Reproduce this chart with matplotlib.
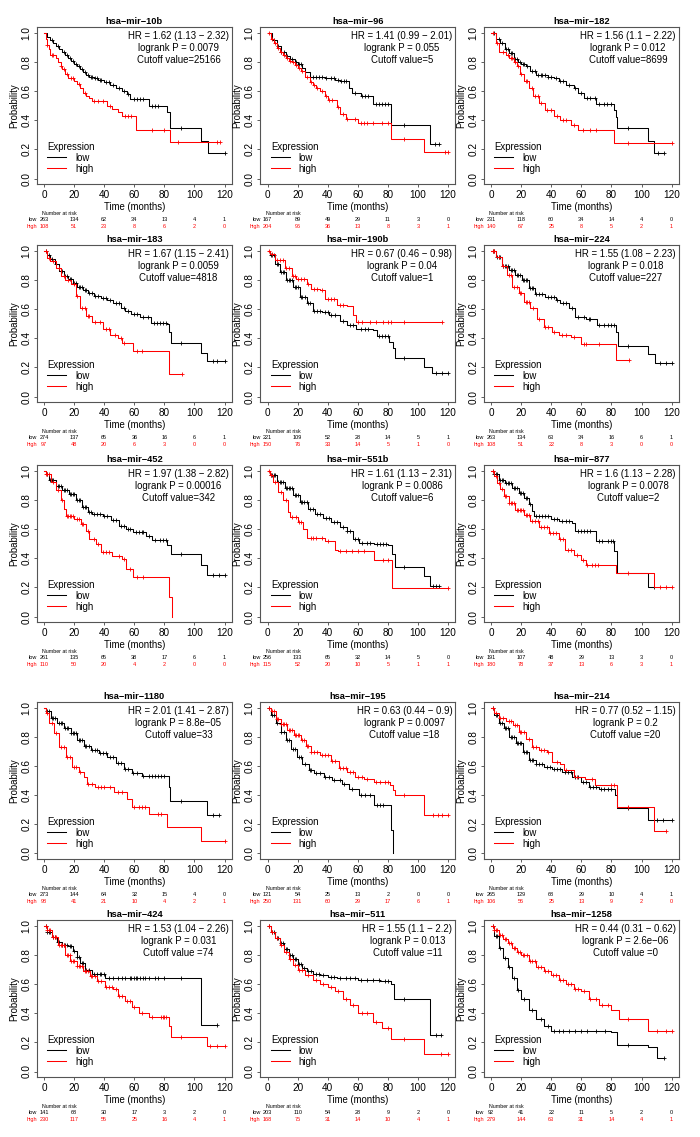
import numpy as np
import matplotlib
matplotlib.use('Agg')
import matplotlib.pyplot as plt

plt.rcParams['font.family'] = ['Liberation Sans', 'DejaVu Sans']

# time points of the "number at risk" table
risk_times = [0, 20, 40, 60, 80, 100, 120]

# ---- hsa-mir-10b
m10b_low_t = [0, 2, 4, 6, 8, 10, 12, 14, 16, 18, 20, 22, 24, 26, 28, 30, 33, 36, 40, 44, 48, 52, 55, 57, 70, 82, 84, 104, 109, 120]
m10b_low_s = [1.0, 0.97, 0.95, 0.93, 0.91, 0.89, 0.87, 0.85, 0.83, 0.81, 0.79, 0.77, 0.75, 0.73, 0.71, 0.70, 0.69, 0.68, 0.66, 0.64, 0.62, 0.60, 0.58, 0.545, 0.495, 0.455, 0.345, 0.255, 0.177, 0.177]
m10b_low_c = [5, 9, 13, 15, 17, 19, 21, 23, 25, 27, 29, 31, 32, 34, 35, 37, 38, 41, 43, 46, 50, 53, 56, 60, 62, 64, 66, 72, 74, 76, 91, 120]
m10b_high_t = [0, 1, 2, 3, 4, 8, 9, 11, 12, 14, 16, 20, 22, 24, 26, 28, 30, 32, 42, 45, 49, 52, 61, 84, 117]
m10b_high_s = [1.0, 0.96, 0.92, 0.89, 0.85, 0.83, 0.80, 0.77, 0.75, 0.72, 0.69, 0.67, 0.65, 0.62, 0.59, 0.57, 0.55, 0.53, 0.50, 0.48, 0.455, 0.43, 0.33, 0.25, 0.25]
m10b_high_c = [2, 5, 6, 11, 13, 15, 18, 19, 23, 27, 33, 36, 39, 44, 54, 56, 58, 72, 80, 89, 115, 117]
m10b_risk_low = [263, 134, 62, 34, 13, 4, 1]
m10b_risk_high = [108, 51, 23, 8, 6, 2, 0]

# ---- hsa-mir-96
m96_low_t = [0, 3, 6, 9, 12, 15, 18, 20, 23, 25, 28, 38, 45, 48, 54, 56, 62, 70, 82, 108, 114]
m96_low_s = [1.0, 0.95, 0.91, 0.87, 0.84, 0.82, 0.80, 0.79, 0.76, 0.73, 0.70, 0.69, 0.68, 0.67, 0.62, 0.59, 0.57, 0.51, 0.37, 0.24, 0.24]
m96_low_c = [4, 7, 9, 11, 13, 16, 18, 19, 21, 22, 30, 32, 34, 36, 39, 42, 44, 47, 49, 51, 52, 58, 63, 65, 67, 72, 74, 76, 78, 80, 91, 111, 114]
m96_high_t = [0, 2, 4, 6, 8, 10, 12, 14, 16, 18, 20, 22, 25, 28, 30, 32, 35, 38, 40, 46, 48, 52, 60, 82, 104, 120]
m96_high_s = [1.0, 0.96, 0.93, 0.90, 0.87, 0.85, 0.83, 0.81, 0.80, 0.78, 0.76, 0.74, 0.70, 0.66, 0.64, 0.62, 0.60, 0.57, 0.54, 0.49, 0.44, 0.41, 0.38, 0.27, 0.18, 0.18]
m96_high_c = [1, 3, 5, 7, 9, 11, 13, 15, 17, 19, 21, 23, 26, 29, 31, 33, 36, 39, 41, 43, 47, 50, 53, 58, 62, 64, 66, 70, 76, 80, 91, 118, 120]
m96_risk_low = [167, 89, 49, 29, 11, 3, 0]
m96_risk_high = [204, 96, 36, 13, 8, 3, 1]

# ---- hsa-mir-182
m182_low_t = [0, 3, 6, 9, 12, 15, 18, 20, 23, 26, 30, 38, 42, 45, 50, 55, 58, 62, 70, 82, 83, 84, 104, 108, 115]
m182_low_s = [1.0, 0.96, 0.93, 0.89, 0.86, 0.82, 0.80, 0.79, 0.77, 0.74, 0.71, 0.70, 0.69, 0.67, 0.64, 0.62, 0.59, 0.555, 0.515, 0.47, 0.42, 0.35, 0.26, 0.175, 0.175]
m182_low_c = [2, 5, 7, 10, 11, 13, 14, 16, 17, 19, 21, 22, 24, 27, 29, 31, 33, 34, 36, 38, 40, 43, 46, 48, 52, 56, 60, 64, 66, 69, 72, 75, 77, 80, 91, 111, 115]
m182_high_t = [0, 3, 5, 10, 12, 15, 17, 19, 22, 25, 28, 32, 36, 42, 46, 53, 58, 82, 120]
m182_high_s = [1.0, 0.93, 0.87, 0.85, 0.83, 0.80, 0.77, 0.72, 0.67, 0.62, 0.57, 0.52, 0.47, 0.43, 0.40, 0.37, 0.33, 0.245, 0.245]
m182_high_c = [1, 4, 8, 11, 13, 14, 16, 18, 20, 23, 24, 27, 29, 31, 33, 37, 40, 44, 48, 50, 55, 61, 66, 70, 91, 120]
m182_risk_low = [231, 118, 60, 34, 14, 4, 0]
m182_risk_high = [140, 67, 25, 8, 5, 2, 1]

# ---- hsa-mir-183
m183_low_t = [0, 2, 4, 7, 10, 13, 16, 19, 22, 26, 29, 33, 38, 42, 46, 51, 54, 57.5, 64, 71, 82, 83, 84.5, 104, 108, 120]
m183_low_s = [1.0, 0.97, 0.945, 0.91, 0.86, 0.83, 0.805, 0.78, 0.75, 0.73, 0.71, 0.69, 0.68, 0.665, 0.64, 0.61, 0.59, 0.565, 0.545, 0.505, 0.50, 0.44, 0.37, 0.30, 0.245, 0.245]
m183_low_c = [1, 3, 5, 8, 11, 12, 14, 15, 17, 18, 20, 21, 23, 24, 25, 27, 28, 30, 32, 34, 36, 39, 41, 44, 48, 50, 53, 56, 60, 62, 66, 69, 73, 75, 77, 79, 81, 91, 112, 115, 120]
m183_high_t = [0, 2, 4, 8, 11, 14, 18, 21, 24, 28, 32, 39, 44, 49, 52, 59, 83, 91.5]
m183_high_s = [1.0, 0.95, 0.93, 0.885, 0.83, 0.80, 0.77, 0.69, 0.61, 0.55, 0.51, 0.465, 0.425, 0.40, 0.37, 0.31, 0.155, 0.155]
m183_high_c = [1, 3, 6, 10, 13, 16, 20, 22, 25, 27, 29, 30, 34, 37, 41, 43, 47, 51, 53, 62, 65, 91.5]
m183_risk_low = [274, 137, 65, 36, 16, 6, 1]
m183_risk_high = [97, 48, 20, 6, 3, 0, 0]

# ---- hsa-mir-190b
m190b_low_t = [0, 1.5, 5, 8, 12.5, 17, 21.5, 26, 30, 36, 41, 48, 52.5, 59, 70, 72.5, 81, 83.5, 84.6, 104, 109, 120]
m190b_low_s = [1.0, 0.97, 0.91, 0.855, 0.80, 0.75, 0.685, 0.64, 0.59, 0.58, 0.557, 0.518, 0.49, 0.466, 0.454, 0.413, 0.374, 0.33, 0.266, 0.206, 0.16, 0.16]
m190b_low_c = [2, 3, 4, 6, 7, 9, 10, 11, 13, 14, 15, 16, 18, 19, 20, 22, 23, 25, 27, 28, 31, 33, 35, 38, 40, 42, 45, 50, 55, 57, 62, 65, 67, 74, 76, 78, 80, 91, 112, 116, 120]
m190b_high_t = [0, 1.5, 5, 11.5, 16, 19, 26, 29, 35, 38, 46, 52.5, 57, 59, 116]
m190b_high_s = [1.0, 0.98, 0.935, 0.88, 0.83, 0.805, 0.775, 0.74, 0.73, 0.67, 0.626, 0.62, 0.557, 0.515, 0.515]
m190b_high_c = [1, 3, 6, 8, 10, 12, 14, 17, 18, 20, 22, 24, 27, 31, 33, 36, 40, 42, 44, 48, 50, 60, 63, 68, 72, 77, 80, 82, 91, 116]
m190b_risk_low = [221, 109, 52, 28, 14, 5, 1]
m190b_risk_high = [150, 76, 33, 14, 5, 1, 0]

# ---- hsa-mir-224
m224_low_t = [0, 3, 7, 12, 16, 20.5, 25, 29.5, 36, 43, 46, 52, 56, 63, 70.6, 83, 84.5, 104, 109, 120]
m224_low_s = [1.0, 0.96, 0.90, 0.87, 0.835, 0.80, 0.747, 0.703, 0.685, 0.66, 0.64, 0.605, 0.547, 0.53, 0.49, 0.444, 0.345, 0.29, 0.228, 0.228]
m224_low_c = [1, 2, 4, 5, 6, 8, 9, 10, 11, 13, 14, 15, 17, 18, 19, 21, 22, 23, 24, 26, 27, 28, 30, 32, 34, 38, 40, 42, 44, 48, 50, 54, 58, 62, 65, 66, 72, 75, 78, 80, 82, 91, 112, 116, 120]
m224_high_t = [0, 3, 7, 10.7, 14, 18.4, 21.8, 26, 30.7, 35, 40.7, 45, 53, 60, 83, 91.5]
m224_high_s = [1.0, 0.96, 0.90, 0.835, 0.755, 0.71, 0.65, 0.605, 0.535, 0.478, 0.444, 0.42, 0.41, 0.363, 0.25, 0.25]
m224_high_c = [1, 2, 5, 8, 12, 13, 15, 17, 19, 20, 23, 24, 25, 28, 32, 36, 38, 42, 47, 50, 55, 62, 63, 72, 91.5]
m224_risk_low = [263, 134, 63, 34, 16, 6, 1]
m224_risk_high = [108, 51, 22, 8, 3, 0, 0]

# ---- hsa-mir-452
m452_low_t = [0, 1, 3.3, 7.8, 12, 16.7, 21, 25.5, 29, 32, 39, 44.4, 50, 54.4, 59, 68, 72, 82, 84.4, 104, 108.5, 120]
m452_low_s = [1.0, 0.98, 0.936, 0.90, 0.87, 0.845, 0.80, 0.75, 0.717, 0.706, 0.694, 0.66, 0.62, 0.60, 0.58, 0.556, 0.527, 0.49, 0.43, 0.356, 0.287, 0.287]
m452_low_c = [2, 4, 5, 6, 9, 10, 11, 13, 14, 15, 17, 18, 19, 20, 22, 23, 24, 26, 27, 28, 30, 31, 33, 35, 37, 40, 42, 46, 48, 51, 53, 56, 57, 61, 63, 65, 66, 70, 74, 77, 79, 81, 91, 112, 116, 120]
m452_high_t = [0, 1, 4.4, 7.8, 11, 13.3, 14.4, 20, 24.4, 28, 30, 34.4, 37.8, 45.5, 52, 54.4, 59, 83, 85]
m452_high_s = [1.0, 0.98, 0.924, 0.867, 0.80, 0.74, 0.694, 0.67, 0.637, 0.59, 0.533, 0.50, 0.44, 0.418, 0.395, 0.326, 0.27, 0.135, 0.0]
m452_high_c = [1, 2, 3, 6, 9, 12, 15, 16, 17, 18, 19, 22, 23, 25, 26, 29, 33, 36, 39, 41, 43, 50, 53, 57, 62, 66]
m452_risk_low = [261, 135, 65, 38, 17, 6, 1]
m452_risk_high = [110, 50, 20, 4, 2, 0, 0]

# ---- hsa-mir-551b
m551b_low_t = [0, 1.5, 6, 11.5, 17, 21.5, 27, 31.4, 37, 42.5, 48, 52.5, 57, 61, 71, 80, 82.4, 84.6, 104, 108, 114]
m551b_low_s = [1.0, 0.97, 0.926, 0.88, 0.834, 0.788, 0.742, 0.707, 0.677, 0.65, 0.615, 0.585, 0.535, 0.507, 0.50, 0.488, 0.43, 0.343, 0.276, 0.207, 0.207]
m551b_low_c = [2, 3, 4, 5, 7, 8, 9, 10, 12, 13, 14, 15, 16, 18, 19, 20, 22, 23, 24, 26, 28, 30, 33, 35, 39, 41, 44, 46, 50, 53, 55, 58, 60, 63, 66, 68, 73, 75, 77, 79, 91, 110, 112, 114]
m551b_high_t = [0, 1.5, 3.8, 7, 10.4, 13.7, 14.8, 20.4, 23.7, 26, 38, 45, 47, 71, 83, 120]
m551b_high_s = [1.0, 0.97, 0.926, 0.857, 0.80, 0.72, 0.684, 0.65, 0.604, 0.54, 0.518, 0.46, 0.45, 0.39, 0.195, 0.195]
m551b_high_c = [1, 2, 5, 9, 12, 16, 19, 21, 22, 29, 30, 32, 36, 40, 48, 52, 56, 60, 64, 77, 80, 120]
m551b_risk_low = [256, 133, 65, 32, 14, 5, 0]
m551b_risk_high = [115, 52, 20, 10, 5, 1, 1]

# ---- hsa-mir-877
m877_low_t = [0, 1.8, 5, 9.5, 14, 18.4, 22, 25, 27.3, 28.4, 40, 45, 54, 56, 70, 82, 84, 104, 108]
m877_low_s = [1.0, 0.977, 0.94, 0.92, 0.885, 0.85, 0.816, 0.77, 0.724, 0.694, 0.671, 0.655, 0.644, 0.586, 0.517, 0.448, 0.30, 0.20, 0.20]
m877_low_c = [1, 2, 3, 4, 6, 7, 8, 10, 11, 12, 13, 15, 16, 17, 19, 20, 21, 23, 24, 26, 30, 32, 34, 36, 38, 42, 44, 47, 50, 52, 58, 60, 62, 64, 66, 72, 74, 78, 80, 81, 108]
m877_high_t = [0, 1.8, 4, 6, 8.4, 11.8, 16, 22, 26, 32, 38.4, 45, 49.5, 55, 59.5, 63, 83, 108, 120]
m877_high_s = [1.0, 0.965, 0.92, 0.874, 0.83, 0.78, 0.735, 0.70, 0.655, 0.616, 0.575, 0.53, 0.46, 0.425, 0.39, 0.356, 0.30, 0.20, 0.20]
m877_high_c = [1, 3, 5, 7, 9, 10, 12, 13, 14, 15, 17, 18, 19, 20, 21, 23, 24, 25, 27, 29, 31, 33, 35, 37, 39, 41, 43, 46, 48, 51, 53, 57, 61, 64, 67, 69, 71, 91, 112, 116, 120]
m877_risk_low = [191, 107, 48, 29, 13, 3, 0]
m877_risk_high = [180, 78, 37, 13, 6, 3, 1]

# ---- hsa-mir-1180
m1180_low_t = [0, 1.1, 4.4, 8.9, 13.3, 17.7, 22, 26.6, 31, 36.5, 42, 47.6, 53, 58.7, 65, 83, 84, 108, 116]
m1180_low_s = [1.0, 0.977, 0.93, 0.896, 0.86, 0.827, 0.78, 0.74, 0.71, 0.69, 0.66, 0.62, 0.584, 0.55, 0.53, 0.457, 0.358, 0.268, 0.268]
m1180_low_c = [2, 3, 5, 6, 7, 10, 11, 12, 14, 15, 16, 18, 19, 20, 21, 23, 24, 25, 27, 28, 30, 32, 34, 35, 37, 39, 41, 44, 46, 49, 51, 54, 56, 59, 62, 66, 70, 72, 74, 76, 78, 80, 91, 112, 116]
m1180_high_t = [0, 1.1, 3.3, 6.6, 10, 14.4, 18.8, 23, 26.6, 28.8, 34, 46.5, 55, 58.7, 70, 82, 104, 120]
m1180_high_s = [1.0, 0.965, 0.896, 0.827, 0.735, 0.66, 0.596, 0.56, 0.526, 0.48, 0.457, 0.42, 0.376, 0.323, 0.272, 0.18, 0.088, 0.088]
m1180_high_c = [2, 5, 8, 11, 13, 15, 17, 20, 21, 24, 29, 32, 36, 38, 40, 44, 49, 52, 60, 63, 65, 67, 76, 78, 120]
m1180_risk_low = [273, 144, 64, 32, 15, 4, 0]
m1180_risk_high = [98, 41, 21, 10, 4, 2, 1]

# ---- hsa-mir-195
m195_low_t = [0, 2.2, 5.5, 8.8, 12, 15.4, 19.8, 23, 27.5, 31, 37.4, 43, 49.6, 54, 60.6, 71, 82, 83.7]
m195_low_s = [1.0, 0.954, 0.896, 0.838, 0.78, 0.72, 0.66, 0.614, 0.573, 0.554, 0.527, 0.503, 0.476, 0.44, 0.40, 0.33, 0.162, 0.0]
m195_low_c = [1, 3, 4, 6, 9, 11, 13, 14, 17, 18, 21, 22, 25, 28, 29, 32, 35, 38, 41, 44, 48, 51, 56, 62, 65, 68, 73, 75, 77]
m195_high_t = [0, 2.2, 5.5, 8.8, 13, 17.6, 22, 25.3, 28.6, 35, 42, 47.4, 53, 58.4, 64, 70.5, 81.5, 83.3, 84.8, 104, 120]
m195_high_s = [1.0, 0.977, 0.924, 0.89, 0.85, 0.815, 0.78, 0.74, 0.70, 0.677, 0.637, 0.59, 0.56, 0.527, 0.51, 0.49, 0.47, 0.434, 0.40, 0.266, 0.266]
m195_high_c = [1, 3, 4, 6, 7, 9, 10, 11, 12, 14, 15, 16, 18, 19, 20, 21, 23, 24, 26, 27, 29, 31, 33, 36, 38, 40, 43, 45, 48, 50, 52, 55, 57, 60, 63, 66, 72, 75, 78, 80, 91, 110, 113, 116, 120]
m195_risk_low = [121, 54, 25, 13, 2, 0, 0]
m195_risk_high = [250, 131, 60, 29, 17, 6, 1]

# ---- hsa-mir-214
m214_low_t = [0, 2.2, 5.5, 8.8, 12, 16.5, 21, 25.3, 29.7, 35, 40.5, 47.4, 54, 59.5, 65, 71.6, 80.4, 82.6, 83.7, 104, 120]
m214_low_s = [1.0, 0.954, 0.896, 0.86, 0.80, 0.757, 0.70, 0.64, 0.614, 0.596, 0.578, 0.56, 0.527, 0.49, 0.46, 0.446, 0.44, 0.40, 0.312, 0.23, 0.23]
m214_low_c = [1, 3, 4, 6, 7, 9, 10, 11, 13, 14, 15, 17, 18, 19, 20, 22, 23, 24, 26, 27, 28, 30, 32, 34, 37, 39, 42, 44, 46, 49, 51, 53, 56, 58, 61, 63, 66, 68, 70, 73, 75, 78, 80, 91, 110, 114, 120]
m214_high_t = [0, 2.2, 5.5, 10, 14.3, 18.7, 23, 27.5, 32, 37.4, 40.7, 46, 48.5, 55, 62.6, 69.3, 83.7, 108, 116]
m214_high_s = [1.0, 0.965, 0.93, 0.908, 0.885, 0.838, 0.79, 0.735, 0.71, 0.70, 0.63, 0.612, 0.573, 0.527, 0.51, 0.47, 0.32, 0.157, 0.157]
m214_high_c = [1, 3, 6, 8, 12, 13, 16, 17, 19, 20, 22, 25, 28, 30, 33, 35, 38, 44, 50, 57, 67, 80, 82, 91, 116]
m214_risk_low = [265, 129, 68, 29, 10, 4, 1]
m214_risk_high = [106, 56, 25, 13, 9, 2, 0]

# ---- hsa-mir-424
m424_low_t = [0, 1.8, 5, 8.4, 11.8, 16, 19.6, 21.8, 24, 27.3, 32, 40.7, 104, 115]
m424_low_s = [1.0, 0.96, 0.927, 0.893, 0.87, 0.86, 0.825, 0.79, 0.745, 0.70, 0.673, 0.643, 0.32, 0.32]
m424_low_c = [1, 2, 3, 4, 6, 7, 9, 10, 12, 13, 14, 15, 17, 18, 20, 22, 23, 25, 26, 28, 30, 33, 35, 37, 38, 40, 43, 46, 49, 52, 54, 57, 58, 60, 61, 62, 64, 66, 67, 70, 74, 76, 80, 91, 115]
m424_high_t = [0, 1.8, 5, 9.5, 14, 17.3, 21.8, 26.2, 30.7, 35, 40.7, 46, 49.5, 54, 58.4, 63, 69.5, 83, 84.5, 108, 120]
m424_high_s = [1.0, 0.97, 0.927, 0.87, 0.80, 0.757, 0.723, 0.69, 0.655, 0.62, 0.58, 0.564, 0.518, 0.484, 0.44, 0.405, 0.377, 0.314, 0.234, 0.177, 0.177]
m424_high_c = [1, 2, 3, 4, 6, 7, 8, 10, 11, 12, 13, 15, 16, 17, 18, 19, 20, 22, 23, 24, 25, 27, 28, 29, 31, 32, 34, 36, 38, 41, 43, 45, 48, 50, 52, 55, 57, 60, 65, 72, 78, 79, 80, 81, 91, 110, 115, 120]
m424_risk_low = [141, 68, 30, 17, 3, 2, 0]
m424_risk_high = [230, 117, 55, 25, 16, 4, 1]

# ---- hsa-mir-511
m511_low_t = [0, 2, 5, 8, 11, 14, 17, 20, 23, 26, 30, 35, 40, 46, 60, 75, 82, 84, 104, 108, 115]
m511_low_s = [1.0, 0.96, 0.92, 0.88, 0.84, 0.80, 0.77, 0.74, 0.71, 0.69, 0.67, 0.66, 0.65, 0.64, 0.63, 0.62, 0.60, 0.50, 0.50, 0.25, 0.25]
m511_low_c = [1, 3, 4, 6, 7, 9, 10, 12, 13, 15, 16, 18, 19, 21, 22, 24, 27, 29, 32, 34, 37, 42, 44, 48, 52, 55, 58, 62, 66, 70, 74, 78, 80, 91, 112, 115]
m511_high_t = [0, 2, 5, 8, 11, 14, 17, 20, 25, 30, 35, 40, 45, 50, 55, 60, 70, 76, 82, 104, 120]
m511_high_s = [1.0, 0.96, 0.92, 0.87, 0.82, 0.77, 0.73, 0.70, 0.66, 0.63, 0.60, 0.58, 0.55, 0.50, 0.46, 0.40, 0.34, 0.30, 0.22, 0.12, 0.12]
m511_high_c = [1, 3, 6, 9, 12, 15, 18, 21, 23, 27, 32, 37, 42, 47, 52, 57, 63, 66, 72, 80, 91, 115, 120]
m511_risk_low = [203, 110, 54, 28, 9, 2, 0]
m511_risk_high = [168, 75, 31, 14, 10, 4, 1]

# ---- hsa-mir-1258
m1258_low_t = [0, 2, 5, 8, 11, 14, 17, 20, 25, 30, 35, 40, 80, 84, 104, 110, 115]
m1258_low_s = [1.0, 0.93, 0.85, 0.78, 0.72, 0.64, 0.56, 0.50, 0.42, 0.36, 0.31, 0.28, 0.27, 0.18, 0.17, 0.09, 0.09]
m1258_low_c = [1, 3, 4, 6, 9, 12, 15, 18, 22, 27, 33, 38, 42, 45, 48, 52, 56, 60, 64, 70, 76, 91, 115]
m1258_high_t = [0, 2, 5, 8, 11, 14, 17, 20, 25, 30, 35, 40, 45, 50, 55, 60, 65, 72, 80, 85, 104, 120]
m1258_high_s = [1.0, 0.97, 0.94, 0.91, 0.88, 0.85, 0.82, 0.80, 0.76, 0.72, 0.69, 0.66, 0.63, 0.60, 0.57, 0.55, 0.50, 0.46, 0.42, 0.36, 0.28, 0.28]
m1258_high_c = [1, 2, 3, 4, 6, 7, 9, 10, 12, 13, 15, 16, 18, 19, 21, 22, 24, 26, 27, 29, 31, 33, 36, 38, 41, 43, 46, 48, 51, 53, 56, 58, 62, 66, 70, 74, 78, 91, 110, 116, 120]
m1258_risk_low = [92, 41, 22, 11, 5, 2, 0]
m1258_risk_high = [279, 144, 63, 31, 14, 4, 1]

names = ['hsa−mir−10b', 'hsa−mir−96', 'hsa−mir−182',
         'hsa−mir−183', 'hsa−mir−190b', 'hsa−mir−224',
         'hsa−mir−452', 'hsa−mir−551b', 'hsa−mir−877',
         'hsa−mir−1180', 'hsa−mir−195', 'hsa−mir−214',
         'hsa−mir−424', 'hsa−mir−511', 'hsa−mir−1258']
hr_labels = ['1.62 (1.13 − 2.32)', '1.41 (0.99 − 2.01)', '1.56 (1.1 − 2.22)',
             '1.67 (1.15 − 2.41)', '0.67 (0.46 − 0.98)', '1.55 (1.08 − 2.23)',
             '1.97 (1.38 − 2.82)', '1.61 (1.13 − 2.31)', '1.6 (1.13 − 2.28)',
             '2.01 (1.41 − 2.87)', '0.63 (0.44 − 0.9)', '0.77 (0.52 − 1.15)',
             '1.53 (1.04 − 2.26)', '1.55 (1.1 − 2.2)', '0.44 (0.31 − 0.62)']
p_labels = ['0.0079', '0.055', '0.012', '0.0059', '0.04', '0.018',
            '0.00016', '0.0086', '0.0078', '8.8e−05', '0.0097', '0.2',
            '0.031', '0.013', '2.6e−06']
cutoff_labels = ['Cutoff value=25166', 'Cutoff value=5', 'Cutoff value=8699',
                 'Cutoff value=4818', 'Cutoff value=1', 'Cutoff value=227',
                 'Cutoff value=342', 'Cutoff value=6', 'Cutoff value=2',
                 'Cutoff value=33', 'Cutoff value =18', 'Cutoff value =20',
                 'Cutoff value =74', 'Cutoff value =11', 'Cutoff value =0']

curves = [
    (m10b_low_t, m10b_low_s, m10b_low_c, m10b_high_t, m10b_high_s, m10b_high_c, m10b_risk_low, m10b_risk_high),
    (m96_low_t, m96_low_s, m96_low_c, m96_high_t, m96_high_s, m96_high_c, m96_risk_low, m96_risk_high),
    (m182_low_t, m182_low_s, m182_low_c, m182_high_t, m182_high_s, m182_high_c, m182_risk_low, m182_risk_high),
    (m183_low_t, m183_low_s, m183_low_c, m183_high_t, m183_high_s, m183_high_c, m183_risk_low, m183_risk_high),
    (m190b_low_t, m190b_low_s, m190b_low_c, m190b_high_t, m190b_high_s, m190b_high_c, m190b_risk_low, m190b_risk_high),
    (m224_low_t, m224_low_s, m224_low_c, m224_high_t, m224_high_s, m224_high_c, m224_risk_low, m224_risk_high),
    (m452_low_t, m452_low_s, m452_low_c, m452_high_t, m452_high_s, m452_high_c, m452_risk_low, m452_risk_high),
    (m551b_low_t, m551b_low_s, m551b_low_c, m551b_high_t, m551b_high_s, m551b_high_c, m551b_risk_low, m551b_risk_high),
    (m877_low_t, m877_low_s, m877_low_c, m877_high_t, m877_high_s, m877_high_c, m877_risk_low, m877_risk_high),
    (m1180_low_t, m1180_low_s, m1180_low_c, m1180_high_t, m1180_high_s, m1180_high_c, m1180_risk_low, m1180_risk_high),
    (m195_low_t, m195_low_s, m195_low_c, m195_high_t, m195_high_s, m195_high_c, m195_risk_low, m195_risk_high),
    (m214_low_t, m214_low_s, m214_low_c, m214_high_t, m214_high_s, m214_high_c, m214_risk_low, m214_risk_high),
    (m424_low_t, m424_low_s, m424_low_c, m424_high_t, m424_high_s, m424_high_c, m424_risk_low, m424_risk_high),
    (m511_low_t, m511_low_s, m511_low_c, m511_high_t, m511_high_s, m511_high_c, m511_risk_low, m511_risk_high),
    (m1258_low_t, m1258_low_s, m1258_low_c, m1258_high_t, m1258_high_s, m1258_high_c, m1258_risk_low, m1258_risk_high),
]

W, H = 700, 1137
fig = plt.figure(figsize=(W / 100, H / 100), dpi=100)

# pixel position of t=0 for each column and of p=1.0 for each row
col_x0 = [44, 267.5, 491]
row_y1 = [33, 251, 471, 708, 926]
sx = 1.505   # px per month
sy = 145.5   # px per unit probability

RED = '#ff0000'
FS = 6.9


def km(ax, t, s, cens, color, label):
    t = np.asarray(t, float)
    s = np.asarray(s, float)
    line, = ax.step(t, s, where='post', color=color, lw=0.75, label=label)
    c = np.asarray(cens, float)
    idx = np.searchsorted(t, c, side='right') - 1
    ax.plot(c, s[idx], '+', color=color, ms=3.2, mew=0.6)
    return line


for i, (lt, ls, lc, ht, hs, hc, rl, rh) in enumerate(curves):
    r, c = divmod(i, 3)
    left = col_x0[c] - 4.8 * sx
    top = row_y1[r] - 0.04 * sy
    w = 129.6 * sx
    h = 1.08 * sy
    ax = fig.add_axes([left / W, 1 - (top + h) / H, w / W, h / H])
    ax.set_xlim(-4.8, 124.8)
    ax.set_ylim(-0.04, 1.04)

    l1 = km(ax, lt, ls, lc, 'black', 'low')
    l2 = km(ax, ht, hs, hc, RED, 'high')

    ax.set_xticks(np.arange(0, 121, 20))
    ax.set_yticks(np.arange(0, 1.01, 0.2))
    ax.set_yticklabels([f'{v:.1f}' for v in np.arange(0, 1.01, 0.2)],
                       rotation=90, va='center')
    ax.tick_params(labelsize=7.2, length=2.5, width=0.6, pad=1.5, color='#444444')
    for sp in ax.spines.values():
        sp.set_color('#555555')
        sp.set_linewidth(0.8)

    ax.set_title(names[i], fontsize=6.7, fontweight='bold', pad=2.5)
    ax.set_xlabel('Time (months)', fontsize=FS, labelpad=1.5)
    ax.set_ylabel('Probability', fontsize=FS, labelpad=1.5)

    ax.text(0.985, 0.975, 'HR = ' + hr_labels[i] + '\nlogrank P = ' + p_labels[i]
            + '\n' + cutoff_labels[i], transform=ax.transAxes, ha='right', va='top',
            multialignment='center', fontsize=FS, linespacing=1.25)

    ax.legend(handles=[l1, l2], loc='lower left', frameon=False, title='Expression',
              fontsize=FS, title_fontsize=FS, alignment='left', handlelength=2.0,
              labelspacing=0.1, borderaxespad=0.8, borderpad=0.3, handletextpad=0.9)

    # number at risk table
    ax.text(-1, -0.24, 'Number at risk', fontsize=3.8, ha='left', va='center', clip_on=False)
    ax.text(-4.5, -0.283, 'low', fontsize=4.0, ha='right', va='center', clip_on=False)
    ax.text(-4.5, -0.333, 'high', fontsize=4.0, ha='right', va='center', color=RED, clip_on=False)
    for tt, a, b in zip(risk_times, rl, rh):
        ax.text(tt, -0.283, str(a), fontsize=4.0, ha='center', va='center', clip_on=False)
        ax.text(tt, -0.333, str(b), fontsize=4.0, ha='center', va='center', color=RED, clip_on=False)

fig.savefig('out.png', dpi=100)
